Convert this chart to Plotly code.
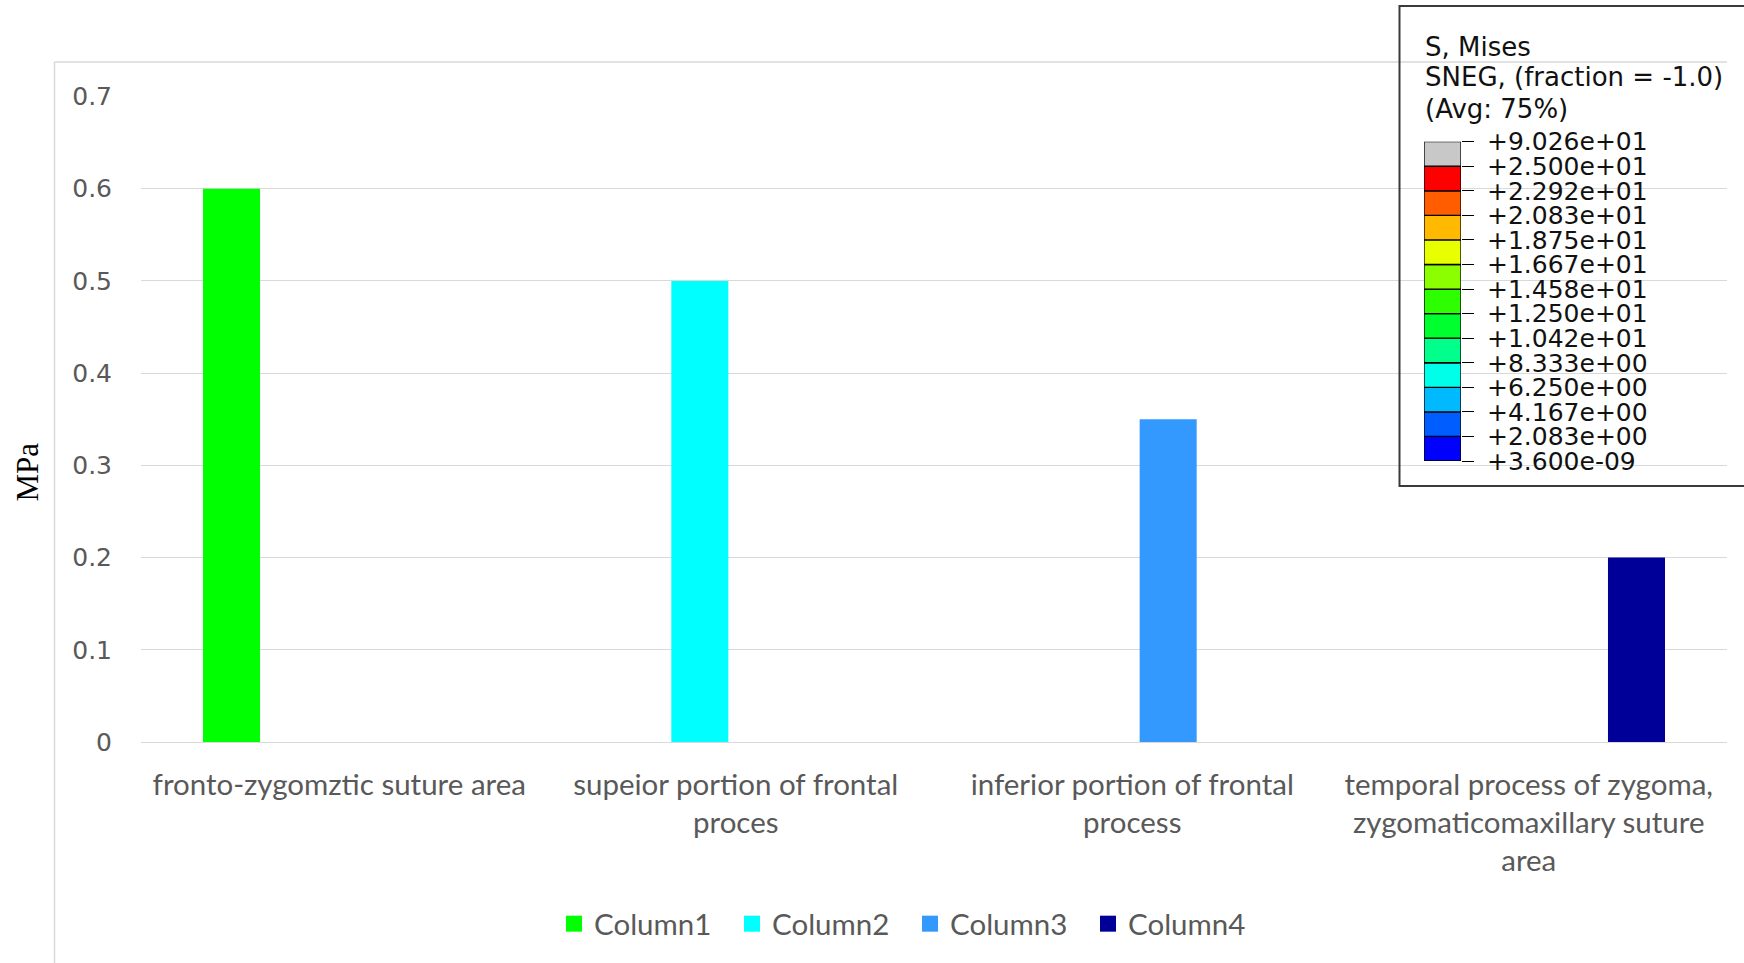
import plotly.graph_objects as go

# ---- data ----
categories = [
    "fronto-zygomztic suture area",
    "supeior portion of frontal<br>proces",
    "inferior portion of frontal<br>process",
    "temporal process of zygoma,<br>zygomaticomaxillary suture<br>area",
]
series_names = ["Column1", "Column2", "Column3", "Column4"]
column1 = [0.6, None, None, None]
column2 = [None, 0.5, None, None]
column3 = [None, None, 0.35, None]
column4 = [None, None, None, 0.2]
series_colors = ["#00FF00", "#00FFFF", "#3399FF", "#000099"]
y_ticks = [0, 0.1, 0.2, 0.3, 0.4, 0.5, 0.6, 0.7]

# contour legend (stress bands, bottom to top)
band_colors = ["#0000FF", "#005DFF", "#00B9FF", "#00FFE8", "#00FF8B", "#00FF2E",
               "#2EFF00", "#8BFF00", "#E8FF00", "#FFB900", "#FF5D00", "#FF0000",
               "#C8C8C8"]
band_labels = ["+3.600e-09", "+2.083e+00", "+4.167e+00", "+6.250e+00", "+8.333e+00",
               "+1.042e+01", "+1.250e+01", "+1.458e+01", "+1.667e+01", "+1.875e+01",
               "+2.083e+01", "+2.292e+01", "+2.500e+01", "+9.026e+01"]
contour_header = ["S, Mises", "SNEG, (fraction = -1.0)", "(Avg: 75%)"]

# ---- layout geometry (pixels) ----
W, H = 1744, 963
ML, MR, MT, MB = 141, 17, 96, 221
PW, PH = W - ML - MR, H - MT - MB


def px(x):
    return (x - ML) / PW


def py(y):
    return (H - MB - y) / PH


AXIS_GREY = "#595959"
GRID = "#D9D9D9"
LABEL_FONT = "Lato"

fig = go.Figure()

all_series = [column1, column2, column3, column4]
for name, vals, col in zip(series_names, all_series, series_colors):
    fig.add_trace(go.Bar(x=categories, y=vals, name=name, marker_color=col,
                         marker_line_width=0, legendgroup=name, showlegend=False))
    # square legend swatch
    fig.add_trace(go.Scatter(x=[None], y=[None], mode="markers", name=name,
                             marker=dict(symbol="square", size=18, color=col),
                             legendgroup=name, showlegend=True))

# contour legend colour bar as stacked bands on an inset axis
fig.add_trace(go.Bar(
    x=[0] * len(band_colors), y=[1] * len(band_colors),
    base=list(range(len(band_colors))), width=1,
    marker=dict(color=band_colors, line=dict(color="#000000", width=1.3)),
    xaxis="x2", yaxis="y2", showlegend=False, hoverinfo="skip",
))

fig.update_layout(
    width=W, height=H,
    margin=dict(l=ML, r=MR, t=MT, b=MB, autoexpand=False),
    paper_bgcolor="white", plot_bgcolor="rgba(0,0,0,0)",
    barmode="group", bargap=0.2754, bargroupgap=0.206,
    xaxis=dict(
        type="category", showgrid=False, showline=False, zeroline=False, ticks="",
        ticklabelstandoff=22,
        tickfont=dict(family=LABEL_FONT, size=29.5, color=AXIS_GREY),
        fixedrange=True,
    ),
    yaxis=dict(
        range=[0, 0.7005], tickvals=y_ticks, ticktext=[f"{v:g}" for v in y_ticks],
        showgrid=True, gridcolor=GRID, gridwidth=1.3,
        zeroline=True, zerolinecolor=GRID, zerolinewidth=1.3,
        showline=False, ticks="", ticklabelstandoff=28,
        tickfont=dict(family="DejaVu Sans", size=25, color=AXIS_GREY),
        fixedrange=True,
    ),
    xaxis2=dict(domain=[px(1424), px(1461)], anchor="y2", range=[-0.5, 0.5],
                visible=False, fixedrange=True),
    yaxis2=dict(domain=[py(461), py(141.7)], anchor="x2", range=[0, 13],
                side="right", tickvals=list(range(len(band_labels))),
                ticktext=band_labels, ticks="outside", ticklen=12,
                tickcolor="#000000", tickwidth=1.3, showgrid=False,
                zeroline=False, showline=False, ticklabelstandoff=8,
                tickfont=dict(family="DejaVu Sans", size=25, color="#111111"),
                fixedrange=True),
    legend=dict(
        orientation="h", x=px(910), y=py(924), xanchor="center", yanchor="middle",
        entrywidth=133, entrywidthmode="pixels",
        font=dict(family=LABEL_FONT, size=29.5, color=AXIS_GREY),
        bgcolor="rgba(0,0,0,0)", itemclick=False, itemdoubleclick=False,
    ),
    showlegend=True,
)

# y-axis title
fig.add_annotation(text="MPa", xref="paper", yref="paper", x=px(27), y=py(472.5),
                   xanchor="center", yanchor="middle", textangle=-90, showarrow=False,
                   font=dict(family="Liberation Serif", size=31, color="#000000"))

# contour legend header, one line per annotation for a tight line pitch
for i, line in enumerate(contour_header):
    fig.add_annotation(text=line, xref="paper", yref="paper",
                       x=px(1423), y=py(46.5 + 31 * i), xanchor="left",
                       yanchor="middle", align="left", showarrow=False,
                       font=dict(family="DejaVu Sans", size=26, color="#111111"))

# chart-area border (left and top) and contour-legend frame
fig.add_shape(type="line", xref="paper", yref="paper", x0=px(54.5), x1=px(54.5),
              y0=py(62), y1=py(H + 5), line=dict(color=GRID, width=1.5), layer="below")
fig.add_shape(type="line", xref="paper", yref="paper", x0=px(54.5), x1=px(1727),
              y0=py(62), y1=py(62), line=dict(color=GRID, width=1.5), layer="below")
fig.add_shape(type="rect", xref="paper", yref="paper", x0=px(1399.5), x1=px(W + 10),
              y0=py(486), y1=py(6), line=dict(color="#3A3A3A", width=2),
              fillcolor="rgba(0,0,0,0)")

fig.write_html("out.html")
